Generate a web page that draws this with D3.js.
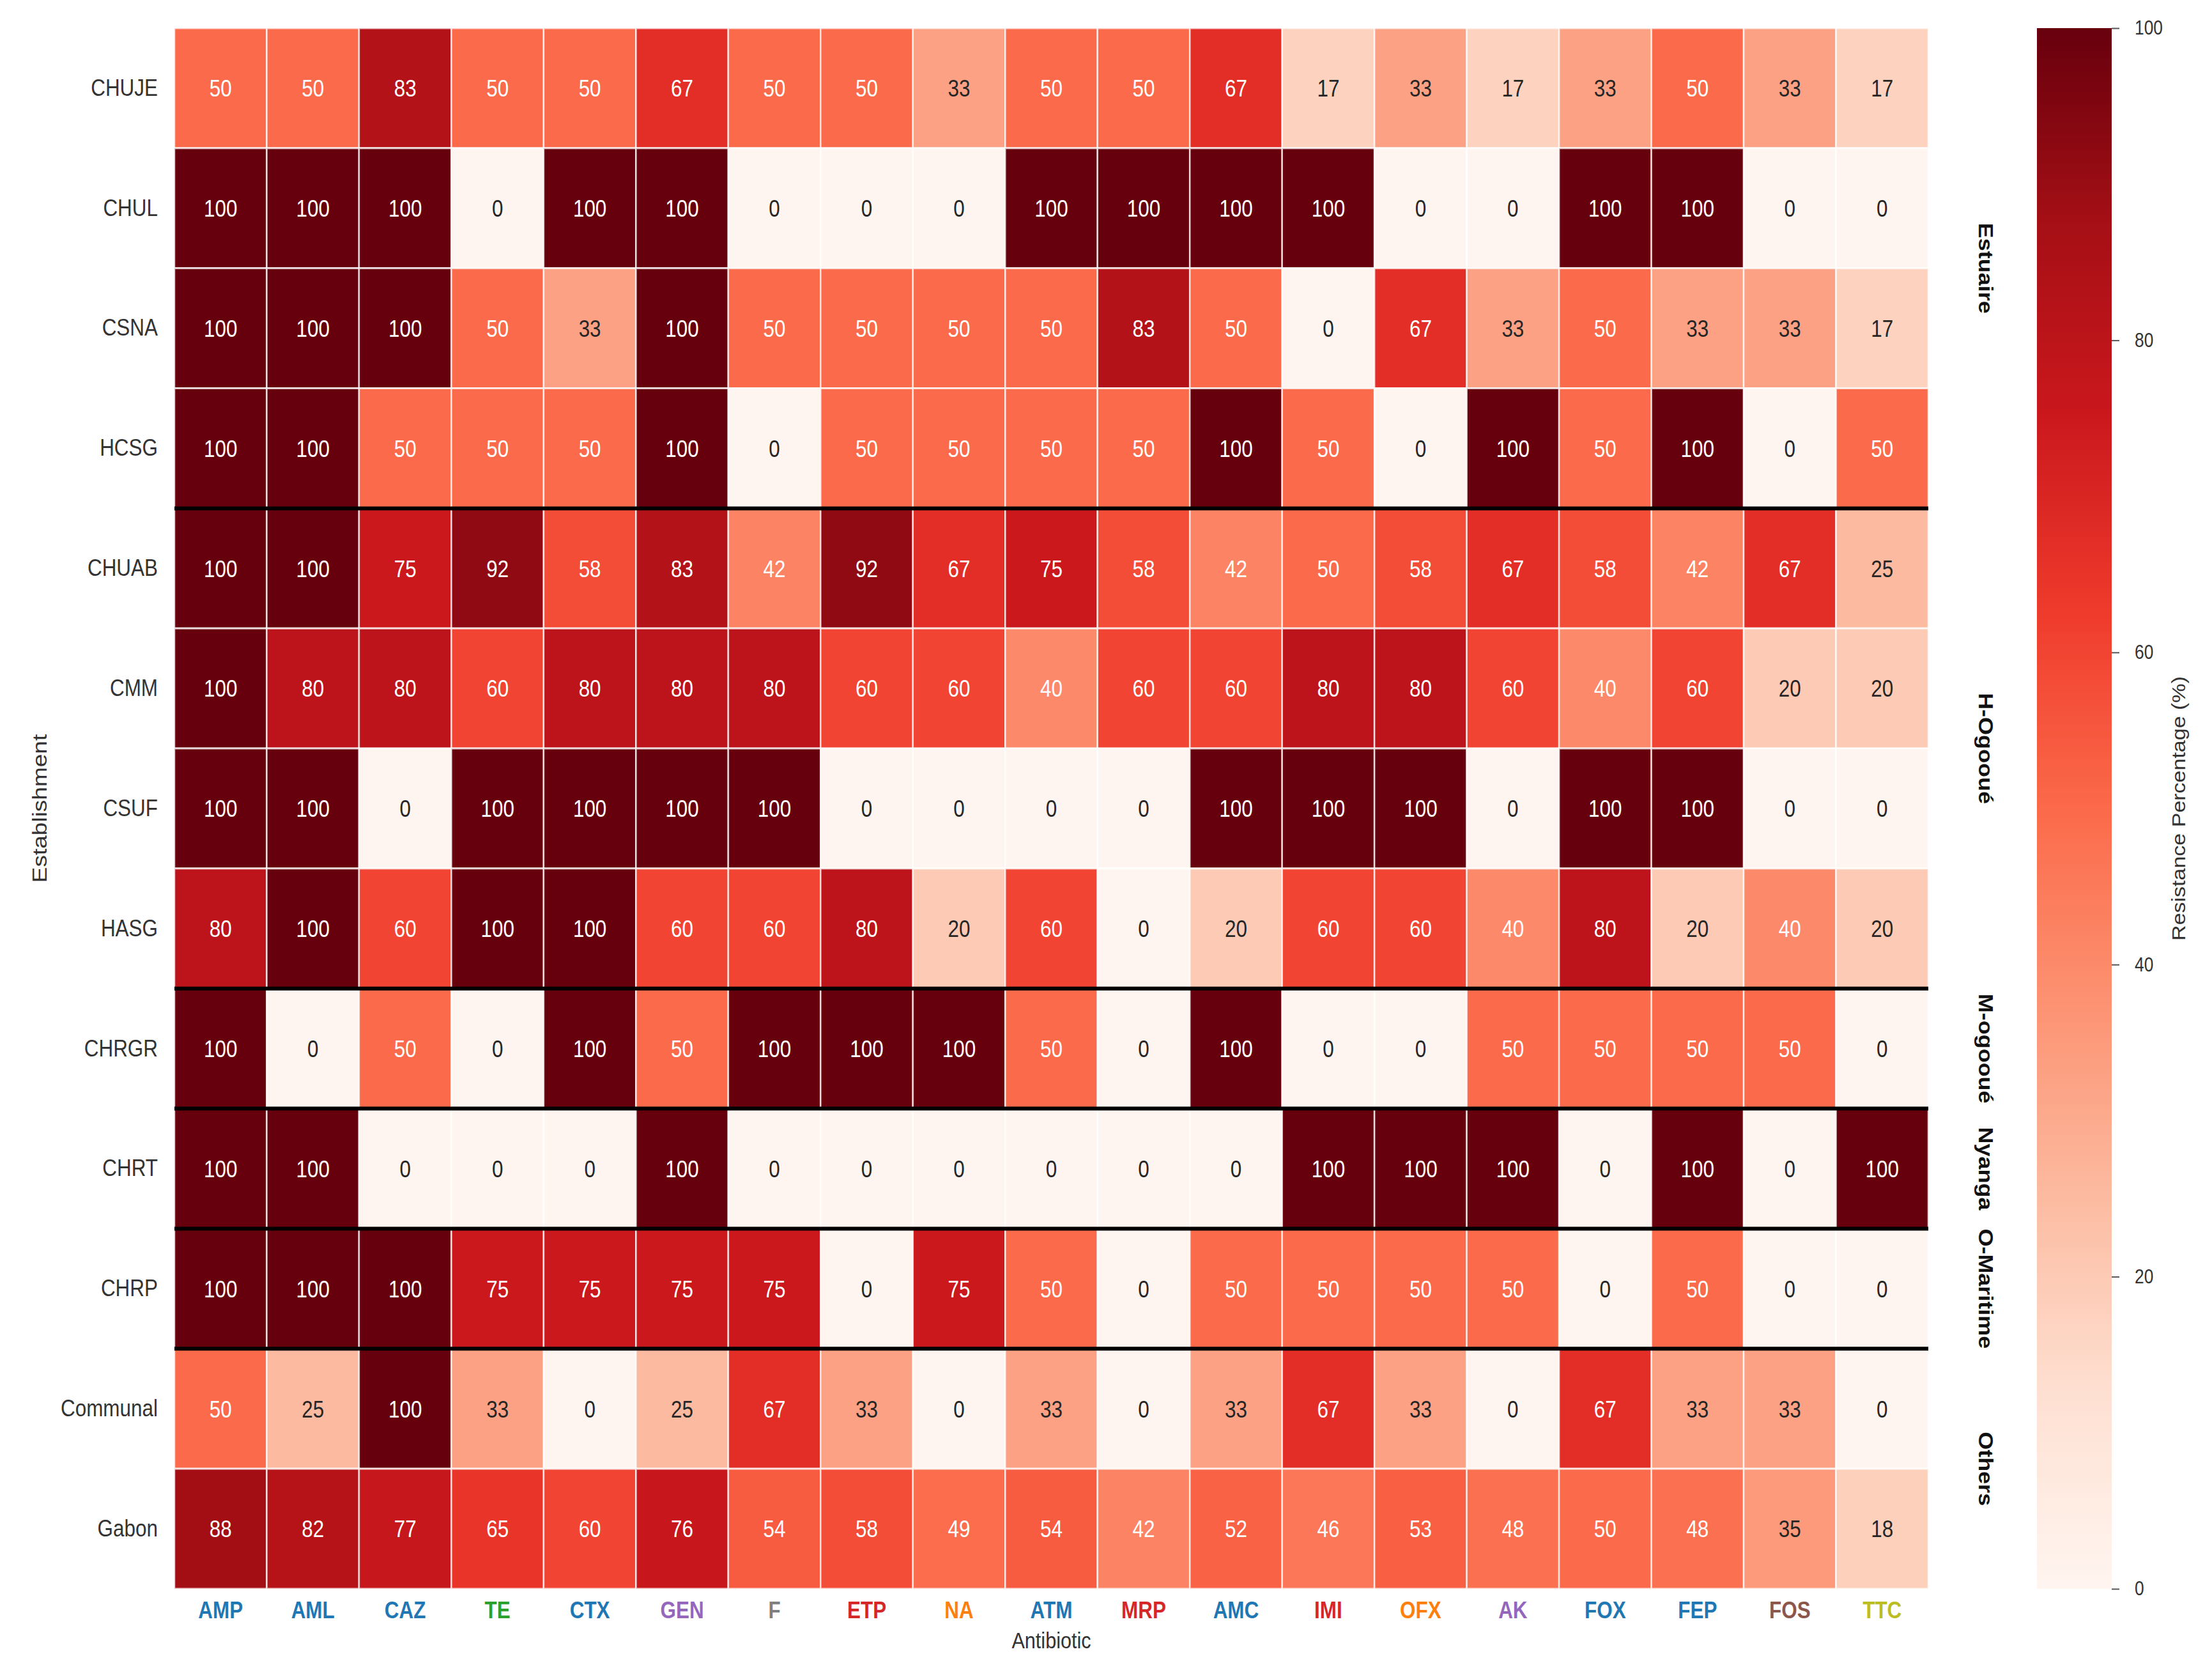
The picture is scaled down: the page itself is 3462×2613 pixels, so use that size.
<!DOCTYPE html>
<html lang="en">
<head>
<meta charset="utf-8">
<title>Antibiotic resistance heatmap</title>
<script src="https://cdnjs.cloudflare.com/ajax/libs/d3/7.8.5/d3.min.js"></script>
<style>
  html, body { margin: 0; padding: 0; background: #fff; }
  svg { display: block; font-family: "Liberation Sans", Arial, sans-serif; }
</style>
</head>
<body>
<div id="chart"></div>
<script>
// data
var antibiotics = ["AMP","AML","CAZ","TE","CTX","GEN","F","ETP","NA","ATM","MRP","AMC","IMI","OFX","AK","FOX","FEP","FOS","TTC"];
var labelColors = ["#1f77b4","#1f77b4","#1f77b4","#2ca02c","#1f77b4","#9467bd","#7f7f7f","#d62728","#ff7f0e","#1f77b4",
                   "#d62728","#1f77b4","#d62728","#ff7f0e","#9467bd","#1f77b4","#1f77b4","#8c564b","#bcbd22"];
var establishments = ["CHUJE","CHUL","CSNA","HCSG","CHUAB","CMM","CSUF","HASG","CHRGR","CHRT","CHRP","Communal","Gabon"];
var resistance = [
  [50,50,83,50,50,67,50,50,33,50,50,67,17,33,17,33,50,33,17],
  [100,100,100,0,100,100,0,0,0,100,100,100,100,0,0,100,100,0,0],
  [100,100,100,50,33,100,50,50,50,50,83,50,0,67,33,50,33,33,17],
  [100,100,50,50,50,100,0,50,50,50,50,100,50,0,100,50,100,0,50],
  [100,100,75,92,58,83,42,92,67,75,58,42,50,58,67,58,42,67,25],
  [100,80,80,60,80,80,80,60,60,40,60,60,80,80,60,40,60,20,20],
  [100,100,0,100,100,100,100,0,0,0,0,100,100,100,0,100,100,0,0],
  [80,100,60,100,100,60,60,80,20,60,0,20,60,60,40,80,20,40,20],
  [100,0,50,0,100,50,100,100,100,50,0,100,0,0,50,50,50,50,0],
  [100,100,0,0,0,100,0,0,0,0,0,0,100,100,100,0,100,0,100],
  [100,100,100,75,75,75,75,0,75,50,0,50,50,50,50,0,50,0,0],
  [50,25,100,33,0,25,67,33,0,33,0,33,67,33,0,67,33,33,0],
  [88,82,77,65,60,76,54,58,49,54,42,52,46,53,48,50,48,35,18]
];
var groupNames = ["Estuaire","H-Ogooué","M-ogooué","Nyanga","O-Maritime","Others"];
var groupSizes = [4,4,1,1,1,2];
var cbTicks = [0,20,40,60,80,100];

// matplotlib "Reds"
var reds = ["#fff5f0","#fee0d2","#fcbba1","#fc9272","#fb6a4a","#ef3b2c","#cb181d","#a50f15","#67000d"];

(function () {
// the picture is a bit squeezed sideways, so x is drawn in stretched units
var k = 0.85;
var W = 3462, H = 2613;
function px(v) { return v / k; }

var svg = d3.select("#chart").append("svg")
    .attr("width", W).attr("height", H)
    .attr("viewBox", "0 0 " + px(W) + " " + H)
    .attr("preserveAspectRatio", "none");

var plotLeft = 273, plotRight = 3018, plotTop = 44, plotBottom = 2486;

var x = d3.scaleBand().domain(antibiotics).range([px(plotLeft), px(plotRight)]);
var y = d3.scaleBand().domain(establishments).range([plotTop, plotBottom]);
var color = d3.scaleLinear()
    .domain(reds.map(function (d, i) { return i * 100 / (reds.length - 1); }))
    .range(reds);

// seaborn picks white or dark text from the cell luminance
function textColor(c) {
  var rgb = d3.rgb(c);
  function lin(v) { v = v / 255; return v <= 0.03928 ? v / 12.92 : Math.pow((v + 0.055) / 1.055, 2.4); }
  var lum = 0.2126 * lin(rgb.r) + 0.7152 * lin(rgb.g) + 0.0722 * lin(rgb.b);
  return lum > 0.408 ? "#262626" : "#ffffff";
}

var cells = [];
resistance.forEach(function (row, i) {
  row.forEach(function (v, j) {
    cells.push({ est: establishments[i], ab: antibiotics[j], v: v });
  });
});

var g = svg.append("g");

g.selectAll("rect.cell")
  .data(cells)
  .enter().append("rect")
  .attr("class", "cell")
  .attr("x", function (d) { return x(d.ab); })
  .attr("y", function (d) { return y(d.est); })
  .attr("width", x.bandwidth())
  .attr("height", y.bandwidth())
  .attr("fill", function (d) { return color(d.v); })
  .attr("stroke", "#ffffff")
  .attr("stroke-opacity", 0.75)
  .attr("stroke-width", 3);

g.selectAll("text.annot")
  .data(cells)
  .enter().append("text")
  .attr("class", "annot")
  .attr("x", function (d) { return x(d.ab) + x.bandwidth() / 2; })
  .attr("y", function (d) { return y(d.est) + y.bandwidth() / 2; })
  .attr("dy", "0.36em")
  .attr("text-anchor", "middle")
  .attr("font-size", 37)
  .attr("fill", function (d) { return textColor(color(d.v)); })
  .text(function (d) { return d.v; });

// group separators
var cum = 0;
var groups = groupNames.map(function (name, i) {
  var start = cum;
  cum += groupSizes[i];
  return { name: name, start: start, end: cum };
});

g.selectAll("line.sep")
  .data(groups.slice(0, groups.length - 1))
  .enter().append("line")
  .attr("class", "sep")
  .attr("x1", px(plotLeft))
  .attr("x2", px(plotRight))
  .attr("y1", function (d) { return y(establishments[d.end]); })
  .attr("y2", function (d) { return y(establishments[d.end]); })
  .attr("stroke", "#000")
  .attr("stroke-width", 6);

// group labels on the right
g.selectAll("text.group")
  .data(groups)
  .enter().append("text")
  .attr("class", "group")
  .attr("transform", function (d) {
    var cy = (y(establishments[d.start]) + y(establishments[d.end - 1]) + y.bandwidth()) / 2;
    return "translate(" + px(3108) + "," + cy + ") rotate(90)";
  })
  .attr("dy", "0.36em")
  .attr("text-anchor", "middle")
  .attr("font-size", 36)
  .attr("font-weight", "bold")
  .attr("fill", "#111")
  .text(function (d) { return d.name; });

// axes
var yAxis = g.append("g")
  .attr("transform", "translate(" + px(plotLeft) + ",0)")
  .call(d3.axisLeft(y).tickSize(0).tickPadding(px(26)));
yAxis.select(".domain").remove();
yAxis.selectAll("text")
  .attr("font-size", 37)
  .attr("fill", "#333")
  .attr("font-family", "Liberation Sans, Arial, sans-serif");

var xAxis = g.append("g")
  .attr("transform", "translate(0," + plotBottom + ")")
  .call(d3.axisBottom(x).tickSize(0).tickPadding(20));
xAxis.select(".domain").remove();
xAxis.selectAll("text")
  .attr("font-size", 37)
  .attr("font-weight", "bold")
  .attr("font-family", "Liberation Sans, Arial, sans-serif")
  .attr("fill", function (d, i) { return labelColors[i]; });

svg.append("text")
  .attr("x", (px(plotLeft) + px(plotRight)) / 2)
  .attr("y", 2579)
  .attr("text-anchor", "middle")
  .attr("font-size", 36)
  .attr("fill", "#333")
  .text("Antibiotic");

svg.append("text")
  .attr("transform", "translate(" + px(62) + "," + (plotTop + plotBottom) / 2 + ") rotate(-90)")
  .attr("dy", "0.36em")
  .attr("text-anchor", "middle")
  .attr("font-size", 37)
  .attr("fill", "#333")
  .text("Establishment");

// colour bar
var cbLeft = 3188, cbRight = 3305;
var defs = svg.append("defs");
var grad = defs.append("linearGradient")
  .attr("id", "cbGrad")
  .attr("x1", 0).attr("y1", 1).attr("x2", 0).attr("y2", 0);
grad.selectAll("stop")
  .data(color.domain())
  .enter().append("stop")
  .attr("offset", function (d) { return d + "%"; })
  .attr("stop-color", function (d) { return color(d); });

svg.append("rect")
  .attr("x", px(cbLeft))
  .attr("y", plotTop)
  .attr("width", px(cbRight - cbLeft))
  .attr("height", plotBottom - plotTop)
  .attr("fill", "url(#cbGrad)");

var cb = d3.scaleLinear().domain([0, 100]).range([plotBottom, plotTop]);
var cbAxis = svg.append("g")
  .attr("transform", "translate(" + px(cbRight) + ",0)")
  .call(d3.axisRight(cb).tickValues(cbTicks).tickSize(px(12)).tickPadding(px(24)));
cbAxis.select(".domain").remove();
cbAxis.selectAll("line").attr("stroke", "#555").attr("stroke-width", 2);
cbAxis.selectAll("text")
  .attr("font-size", 31)
  .attr("fill", "#333")
  .attr("font-family", "Liberation Sans, Arial, sans-serif");

svg.append("text")
  .attr("transform", "translate(" + px(3410) + "," + (plotTop + plotBottom) / 2 + ") rotate(-90)")
  .attr("dy", "0.36em")
  .attr("text-anchor", "middle")
  .attr("font-size", 34)
  .attr("fill", "#333")
  .text("Resistance Percentage (%)");
})();
</script>
</body>
</html>
